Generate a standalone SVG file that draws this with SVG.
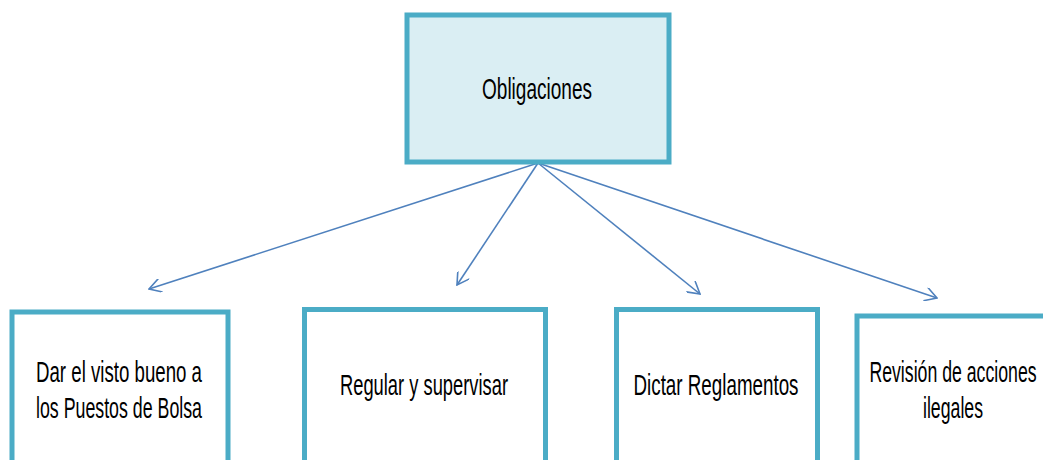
<svg xmlns="http://www.w3.org/2000/svg" width="1043" height="460" viewBox="0 0 1043 460">
<defs>
<style>
.box{fill:#FFFFFF;stroke:#4BACC6;stroke-width:5}
.top{fill:#DAEEF3;stroke:#4BACC6;stroke-width:5}
.lbl{font-family:"Liberation Sans",Arial,sans-serif;font-size:30px;fill:#000000;text-anchor:middle}
.con{stroke:#4F81BD;stroke-width:1.6;fill:none;marker-end:url(#arr)}
</style>
<marker id="arr" viewBox="0 0 14 14" refX="13" refY="7" markerWidth="14" markerHeight="14" markerUnits="userSpaceOnUse" orient="auto">
<path d="M1,0 L13,7 L1,14" fill="none" stroke="#4F81BD" stroke-width="1.6"/>
</marker>
</defs>
<g id="connectors">
<line class="con" x1="538" y1="163" x2="149" y2="289"/>
<line class="con" x1="538" y1="163" x2="457" y2="285"/>
<line class="con" x1="538" y1="163" x2="700" y2="294"/>
<line class="con" x1="538" y1="163" x2="937" y2="298"/>
</g>
<g id="obligaciones">
<rect class="top" x="407" y="15" width="262" height="147"/>
<text class="lbl" x="537" y="99" textLength="110" lengthAdjust="spacingAndGlyphs">Obligaciones</text>
</g>
<g id="dar-visto-bueno">
<rect class="box" x="12" y="312" width="216" height="170"/>
<text class="lbl" x="119" y="382" textLength="166" lengthAdjust="spacingAndGlyphs">Dar el visto bueno a</text>
<text class="lbl" x="119" y="418" textLength="166" lengthAdjust="spacingAndGlyphs">los Puestos de Bolsa</text>
</g>
<g id="regular-supervisar">
<rect class="box" x="304.5" y="309.5" width="241" height="170"/>
<text class="lbl" x="424" y="395" textLength="168" lengthAdjust="spacingAndGlyphs">Regular y supervisar</text>
</g>
<g id="dictar-reglamentos">
<rect class="box" x="616.5" y="309.5" width="201" height="170"/>
<text class="lbl" x="716" y="395" textLength="165" lengthAdjust="spacingAndGlyphs">Dictar Reglamentos</text>
</g>
<g id="revision-acciones">
<rect class="box" x="857" y="316" width="200" height="170"/>
<text class="lbl" transform="translate(953,382) scale(0.59,1)"><tspan x="0" y="0">Revisión de acciones</tspan><tspan x="0" y="36">ilegales</tspan></text>
</g>
</svg>
